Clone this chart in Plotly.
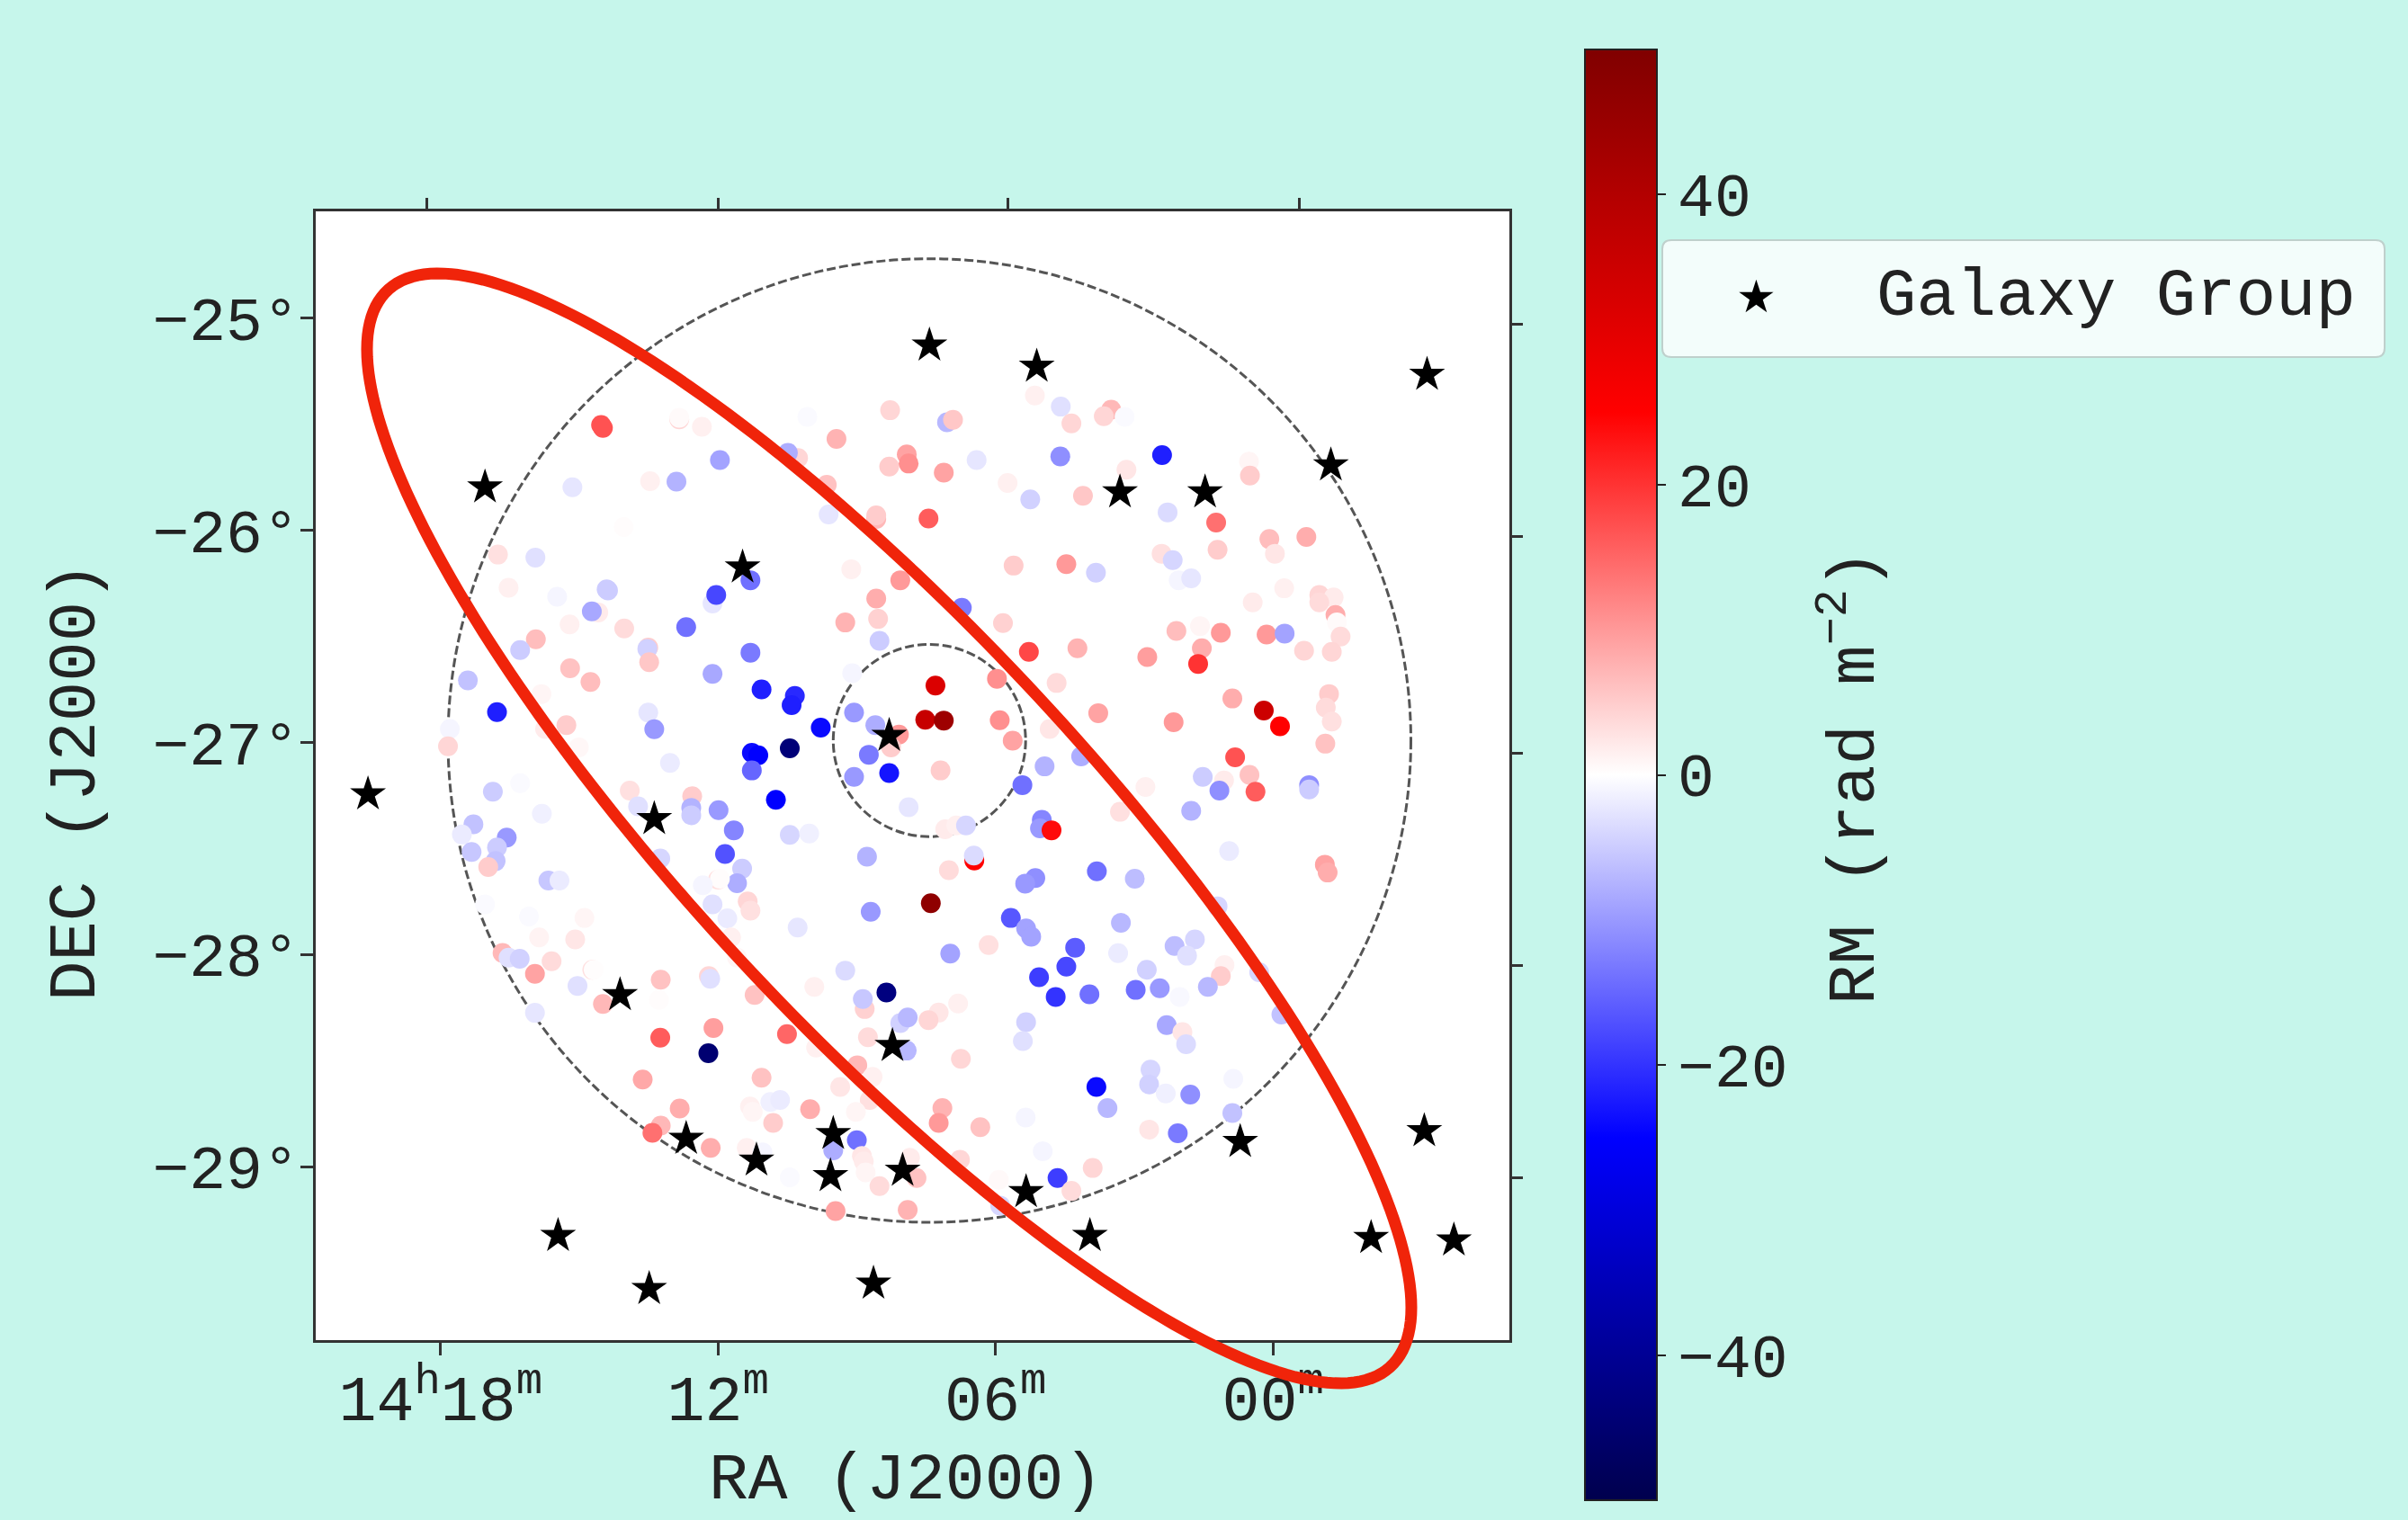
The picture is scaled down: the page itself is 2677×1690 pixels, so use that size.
import numpy as np
import plotly.graph_objects as go

# RA in minutes past 14h, Dec in degrees, RM in rad m^-2
ra_min = [14.53,14.49,12.84,12.84,12.35,10.07,11.96,10.27,10.49,9.44,8.28,8.30,7.92,7.88,9.65,9.61,8.58,8.58,
15.15,13.47,12.90,14.04,16.76,15.95,16.53,15.48,14.41,14.38,14.59,14.73,15.21,14.03,12.12,12.04,12.69,11.30,9.12,8.06,8.58,9.25,8.54,8.51,
15.94,16.28,13.51,13.53,13.49,15.20,14.76,17.41,15.82,11.30,12.12,11.06,10.34,10.41,16.78,13.51,15.28,13.38,9.06,8.60,9.10,9.78,10.45,11.27,11.13,11.27,8.74,9.06,8.30,8.09,8.26,17.80,17.84,15.74,15.01,13.04,
5.15,4.59,7.05,6.92,4.36,3.50,3.66,3.21,4.60,2.40,6.41,3.17,0.52,0.50,7.12,5.74,5.25,4.11,7.45,2.28,1.23,0.08,-0.72,1.20,2.41,2.17,-0.04,5.61,4.47,3.83,2.04,1.77,-0.24,-1.00,-1.31,-1.00,0.44,-1.35,6.73,5.84,2.09,1.58,1.13,0.14,-0.25,-1.38,-1.46,-0.67,-1.27,5.28,4.23,1.54,2.72,1.62,5.97,4.68,7.30,-1.21,-1.14,-1.27,0.88,3.78,7.52,7.12,5.91,0.20,2.15,-0.15,5.63,4.83,-1.13,7.19,4.94,4.15,0.82,0.51,1.52,1.06,
16.87,16.28,15.81,17.29,16.57,17.54,16.78,17.33,16.81,16.97,15.67,15.43,13.91,13.73,12.56,12.58,12.58,11.99,11.66,10.75,10.45,10.03,7.88,8.78,11.85,13.25,11.48,11.59,12.00,11.96,12.33,12.12,11.36,11.30,11.80,8.70,10.28,17.04,16.09,14.89,15.87,15.09,11.72,16.66,16.53,16.29,11.59,15.60,15.96,14.72,14.69,9.25,12.20,12.17,13.24,15.04,9.92,11.21,8.83,8.87,8.36,14.49,13.28,15.96,8.06,7.90,12.10,13.25,10.51,8.76,12.21,9.88,7.92,8.99,8.66,13.63,11.06,9.36,11.31,11.25,10.87,10.66,8.72,10.01,9.02,12.83,10.81,13.24,13.42,12.16,11.38,11.04,9.00,9.51,8.89,8.85,8.81,10.45,8.51,9.46,7.90,7.85,7.71,
5.42,1.16,0.38,-0.78,-0.78,2.76,3.31,1.77,7.09,6.85,6.64,5.00,5.04,4.79,0.95,6.46,6.47,7.01,3.81,5.14,5.36,2.99,-1.12,-1.18,1.20,7.40,5.67,3.29,5.34,5.23,6.15,6.98,4.28,3.35,2.13,1.69,1.86,4.47,5.06,4.70,3.97,2.97,2.45,2.73,1.05,1.13,1.41,2.02,0.30,6.81,7.23,7.45,5.34,5.41,2.30,1.96,1.88,-0.18,6.75,2.65,2.68,3.82,2.32,1.79,0.86,3.58,7.15,7.23,6.33,5.35,0.88,2.68,2.06,4.98,3.90,4.66,4.36,6.77,5.93,5.90]

dec_deg = [-25.503,-25.517,-25.477,-25.469,-25.512,-25.465,-25.669,-25.659,-25.635,-25.569,-25.434,-25.699,-25.642,-25.685,-25.785,-25.925,-25.946,-25.929,
-25.797,-25.768,-25.770,-25.984,-26.114,-26.128,-26.270,-26.313,-26.278,-26.283,-26.387,-26.382,-26.443,-26.462,-26.344,-26.304,-26.456,-26.235,-26.183,-26.235,-26.321,-26.434,-26.417,-26.520,
-26.513,-26.564,-26.552,-26.558,-26.621,-26.650,-26.714,-26.707,-26.771,-26.576,-26.676,-26.749,-26.780,-26.823,-26.856,-26.858,-26.918,-26.937,-26.858,-26.918,-26.673,-26.929,-27.027,-27.048,-27.060,-27.131,-27.057,-27.161,-27.143,-26.962,-27.022,-26.936,-27.017,-26.936,-27.022,-27.096,
-25.365,-25.417,-25.491,-25.479,-25.496,-25.431,-25.462,-25.465,-25.652,-25.645,-25.669,-25.714,-25.676,-25.742,-25.728,-25.777,-25.854,-25.837,-25.944,-25.915,-25.963,-26.041,-26.031,-26.091,-26.110,-26.140,-26.110,-26.166,-26.159,-26.199,-26.235,-26.226,-26.273,-26.304,-26.316,-26.339,-26.339,-26.399,-26.365,-26.437,-26.474,-26.451,-26.482,-26.491,-26.486,-26.434,-26.500,-26.567,-26.572,-26.572,-26.555,-26.555,-26.597,-26.629,-26.699,-26.719,-26.731,-26.771,-26.835,-26.901,-26.792,-26.861,-26.892,-26.896,-26.894,-26.849,-26.904,-26.923,-26.991,-26.936,-27.005,-27.131,-27.112,-27.065,-27.069,-27.152,-27.161,-27.178,
-27.231,-27.191,-27.335,-27.385,-27.447,-27.433,-27.494,-27.515,-27.558,-27.586,-27.650,-27.650,-27.226,-27.300,-27.252,-27.307,-27.342,-27.318,-27.413,-27.269,-27.435,-27.428,-27.304,-27.537,-27.525,-27.546,-27.594,-27.662,-27.645,-27.641,-27.672,-27.762,-27.748,-27.792,-27.828,-27.797,-27.871,-27.762,-27.819,-27.826,-27.918,-27.927,-27.918,-27.991,-28.013,-28.018,-28.013,-28.030,-28.089,-28.070,-28.070,-28.074,-28.100,-28.113,-28.117,-28.146,-28.151,-28.189,-28.255,-28.208,-28.177,-28.231,-28.212,-28.273,-28.321,-28.295,-28.345,-28.390,-28.373,-28.388,-28.463,-28.437,-28.451,-28.520,-28.575,-28.587,-28.579,-28.622,-28.714,-28.740,-28.693,-28.684,-28.684,-28.727,-28.740,-28.724,-28.792,-28.804,-28.838,-28.909,-28.909,-28.930,-28.873,-28.921,-28.947,-28.973,-29.025,-29.048,-29.089,-29.207,-29.202,-28.956,-29.051,
-27.200,-27.226,-27.231,-27.200,-27.221,-27.209,-27.326,-27.321,-27.408,-27.390,-27.390,-27.364,-27.404,-27.413,-27.511,-27.555,-27.532,-27.601,-27.606,-27.638,-27.664,-27.641,-27.575,-27.612,-27.771,-27.757,-27.826,-27.849,-27.875,-27.914,-27.954,-27.994,-27.966,-27.992,-27.958,-27.927,-28.004,-28.055,-28.105,-28.198,-28.186,-28.165,-28.157,-28.070,-28.048,-28.100,-28.151,-28.198,-28.082,-28.229,-28.272,-28.307,-28.317,-28.406,-28.331,-28.364,-28.421,-28.281,-28.490,-28.541,-28.610,-28.622,-28.653,-28.658,-28.584,-28.722,-28.722,-28.792,-28.812,-28.766,-28.745,-28.823,-28.840,-28.925,-29.004,-29.051,-29.112,-28.965,-29.060,-29.181]

rm = [17,17,4,0.5,1.5,-0.5,-9,4,-8,7.5,4,5,9,11,6,-2.5,7,5,
-2.5,1.5,-7.5,0.3,3,-3,1.5,-1,-5,-5,2,-8.5,1.5,3.5,-2.5,-18,-14,-14,1.5,10,8,7.5,4.5,-5,
6.5,-5,5,-4.5,5.5,6,6.5,-6,1,-13,-8.5,-22,-21,-22,-22,-2.5,5,-10,-10,-8,-1,-24,-44,-24,-25,-15,-13,-10,-23,10,5,-1,4,2,0.8,-2,
1.5,-3,-7,5.5,4,7,4,-0.5,-11,-22,-2.5,2.5,1,5,9,1.5,-4.5,5.5,16,-3.5,14,6.5,8,5,3,-4,2.5,5,10,-4.5,-1,-2.5,1.5,4,2,3.5,2,8,-13,4.5,6.5,1,10,10,-9,0.5,3.5,4,4,18,7.5,8,9.5,20,11,3.5,32,5,3.5,3,8,9,36,44,11,35,10,25,9,2.5,6,5,-7.5,-8,17,6,-5,2,
-5,-0.5,-1.5,-6,-10,-2,-5,-5.5,-6,5,-5.5,-2,3,-3,5,-7.5,-5,-10,-12,-25,-4,-1.5,-2.5,-7.5,-17,-4,-5,-8,3,0.3,-1,-3,4,3,-2,-10,-2.5,-0.5,-0.5,1,1.2,2.5,1.5,7,-3,-4.5,1,3.5,9,3,0.2,-3.5,4,-3,6,-3,1.5,6,4.5,-5.5,-43,7,0.3,-2.5,-4.5,-7,9.5,16,15,3.5,-45,1.5,-7,7,1.5,8.5,6,2.5,1.5,1,-1.5,-2,3,8,1,8,5,7,14,8,1.5,-1,-14,-8,2.5,2,1,-0.5,3.5,9,7.5,2,6,
-14,-11,16,-11,-5,1.5,3,-7.5,2,1.5,-4,-12,-10,24,-2,25,-3.5,3.5,-14,-11,-10,-6.5,9,8,-4,47,-16.5,-7,-9,-9,3,-9,-16,-2,-6.5,-4,-3,-18,-19,-20,-14,-14,-10,-4.5,1.5,5,-7,-0.7,-4,1.5,2.5,4,-4.5,-3,-8.5,2.5,-3.5,-6,4,-4,-4.5,-24,-1.5,-11,-1,-7,7.5,10,6,-1,-6,2.5,-13,-1,4,-19,3.5,4,0.6,-4]

group_ra = [17.04,11.47,8.30,7.43,5.11,-3.33,-1.25,3.31,1.47,19.57,13.38,8.23,14.12,12.69,9.51,11.17,9.57,8.01,15.46,13.49,8.64,0.71,-3.27,5.34,3.96,-2.12,-3.91]
group_dec = [-25.797,-26.174,-26.967,-25.128,-25.228,-25.266,-25.693,-25.820,-25.820,-27.243,-27.359,-28.428,-28.189,-28.866,-28.843,-28.968,-29.042,-29.016,-29.323,-29.573,-29.548,-28.881,-28.830,-29.117,-29.323,-29.333,-29.345]

x_ticks = [18, 12, 6, 0]
x_tick_text = ["14<sup>h</sup>18<sup>m</sup>", "12<sup>m</sup>", "06<sup>m</sup>", "00<sup>m</sup>"]
y_ticks = [-25, -26, -27, -28, -29]
y_tick_text = ["−25°", "−26°", "−27°", "−28°", "−29°"]
top_ticks = [18.29, 11.99, 5.74, -0.56]
right_ticks = [-25.03, -26.03, -27.05, -28.05, -29.05]
rm_ticks = [40, 20, 0, -20, -40]
rm_tick_text = ["40", "20", "0", "−20", "−40"]

W, H = 2677, 1690
L, R, T, B = 351, 1678, 235, 1490
FONT = "Liberation Mono"
INK = "#222222"
BG = "#C6F6EB"
px = lambda v: (v - L) / (R - L)
py = lambda v: (B - v) / (B - T)

seismic = [[0, "rgb(0,0,77)"], [0.25, "rgb(0,0,255)"], [0.5, "rgb(255,255,255)"],
           [0.75, "rgb(255,0,0)"], [1, "rgb(128,0,0)"]]

fig = go.Figure()
fig.add_trace(go.Scatter(
    x=ra_min, y=dec_deg, mode="markers", name="RM", showlegend=False,
    marker=dict(size=22, color=rm, cmin=-50, cmax=50, colorscale=seismic, line=dict(width=0),
                colorbar=dict(
                    thickness=80, thicknessmode="pixels", len=1613, lenmode="pixels",
                    x=px(1762), xanchor="left", y=py(55), yanchor="top", xpad=0, ypad=0,
                    outlinecolor="#222222", outlinewidth=2,
                    tickvals=rm_ticks, ticktext=rm_tick_text, ticks="outside", ticklen=9, tickwidth=2,
                    tickcolor=INK, tickfont=dict(family=FONT, size=68, color=INK),
                ))))
fig.add_trace(go.Scatter(
    x=group_ra, y=group_dec, mode="markers", name="Galaxy Group", showlegend=False,
    marker=dict(symbol="star", size=30, color="black", line=dict(width=0))))
fig.add_trace(go.Scatter(x=[None], y=[None], xaxis="x2", yaxis="y2", showlegend=False, hoverinfo="skip"))

x_range = [20.70, -5.11]
y_range = [-29.815, -24.497]
axis_line = dict(showline=True, linecolor="#333333", linewidth=2.5, mirror=True, showgrid=False, zeroline=False,
                 ticks="outside", ticklen=14, tickwidth=2.5, tickcolor="#333333")

# annotation ellipse, in paper fractions
t = np.linspace(0, 2 * np.pi, 241)
ex = 988.5 + 580.5 * np.cos(t)
ey = 921 + 617 * np.cos(t - 0.5288)
ell = "M " + " L ".join(f"{px(a):.5f},{py(b):.5f}" for a, b in zip(ex, ey)) + " Z"

# rounded legend frame
x0, x1, y0, y1, r = px(1848), px(2651), py(397), py(267), 10
rx, ry = r / (R - L), r / (B - T)
frame = (f"M {x0+rx},{y1} L {x1-rx},{y1} Q {x1},{y1} {x1},{y1-ry} L {x1},{y0+ry} Q {x1},{y0} {x1-rx},{y0} "
         f"L {x0+rx},{y0} Q {x0},{y0} {x0},{y0+ry} L {x0},{y1-ry} Q {x0},{y1} {x0+rx},{y1} Z")

circle_style = dict(type="circle", xref="x", yref="y", layer="below",
                    line=dict(color="#555555", width=3, dash="10px,4px"))
shapes = [
    dict(x0=7.43 + 10.41, x1=7.43 - 10.41, y0=-26.99 - 2.27, y1=-26.99 + 2.27, **circle_style),
    dict(x0=7.43 + 2.08, x1=7.43 - 2.08, y0=-26.99 - 0.453, y1=-26.99 + 0.453, **circle_style),
    dict(type="path", path=ell, xref="paper", yref="paper", layer="above",
         line=dict(color="#F0240A", width=13), fillcolor="rgba(0,0,0,0)"),
    dict(type="path", path=frame, xref="paper", yref="paper", layer="above",
         line=dict(color="#BFD0CC", width=2), fillcolor="#F3FDFB"),
]

def note(text, x, y, size, family=FONT, color=INK, xanchor="center", angle=0):
    return dict(text=text, x=px(x), y=py(y), xref="paper", yref="paper", showarrow=False,
                xanchor=xanchor, yanchor="middle", textangle=angle, borderpad=0,
                font=dict(family=family, size=size, color=color))

annotations = [
    note("★", 1952, 330, 50, family="DejaVu Sans", color="black"),
    note("Galaxy Group", 2085, 330, 74, xanchor="left"),
    note("RA (J2000)", 1007, 1646, 73),
    note("DEC (J2000)", 85, 869, 74, angle=-90),
    note("RM (rad m<sup>−2</sup>)", 2057, 864, 74, angle=-90),
]

fig.update_layout(
    width=W, height=H, autosize=False, showlegend=False,
    margin=dict(l=L, r=W - R, t=T, b=H - B, pad=0),
    paper_bgcolor=BG, plot_bgcolor="white",
    xaxis=dict(range=x_range, tickmode="array", tickvals=x_ticks, ticktext=x_tick_text,
               tickfont=dict(family=FONT, size=70, color=INK), ticklabelstandoff=-12, **axis_line),
    yaxis=dict(range=y_range, tickmode="array", tickvals=y_ticks, ticktext=y_tick_text,
               tickfont=dict(family=FONT, size=68, color=INK), ticklabelstandoff=-12, **axis_line),
    xaxis2=dict(range=x_range, overlaying="x", side="top", tickmode="array", tickvals=top_ticks,
                showticklabels=False, ticks="outside", ticklen=14, tickwidth=2.5, tickcolor="#333333",
                showgrid=False, zeroline=False, showline=False),
    yaxis2=dict(range=y_range, overlaying="y", side="right", tickmode="array", tickvals=right_ticks,
                showticklabels=False, ticks="outside", ticklen=14, tickwidth=2.5, tickcolor="#333333",
                showgrid=False, zeroline=False, showline=False),
    shapes=shapes, annotations=annotations,
)

assert len(ra_min) == len(dec_deg) == len(rm), (len(ra_min), len(dec_deg), len(rm))
fig.write_html("out.html", config={"displayModeBar": False},
               post_script="document.body.style.margin='0';document.body.style.overflow='hidden';")
